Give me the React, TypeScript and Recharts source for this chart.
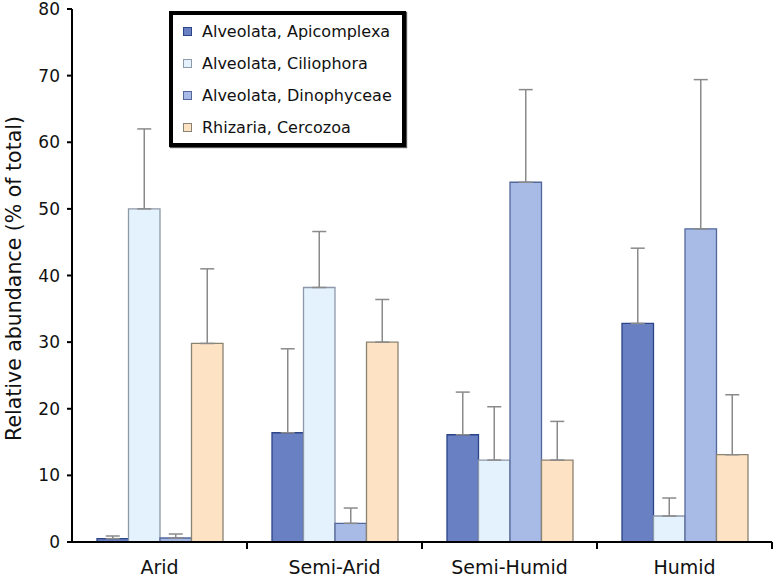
import { Bar, BarChart, ErrorBar, Legend, XAxis, YAxis } from "recharts";

const categories = ["Arid", "Semi-Arid", "Semi-Humid", "Humid"];

const apicomplexa = [0.5, 16.4, 16.1, 32.8];
const apicomplexaErr = [0.4, 12.6, 6.4, 11.3];
const ciliophora = [50, 38.2, 12.3, 3.9];
const ciliophoraErr = [12, 8.4, 8, 2.7];
const dinophyceae = [0.6, 2.8, 54, 47];
const dinophyceaeErr = [0.6, 2.3, 13.9, 22.4];
const cercozoa = [29.8, 30, 12.3, 13.1];
const cercozoaErr = [11.2, 6.4, 5.8, 9];

const yTicks = [0, 10, 20, 30, 40, 50, 60, 70, 80];

const series = [
  { key: "api", name: "Alveolata, Apicomplexa", fill: "#6980c3", stroke: "#2c4488" },
  { key: "cil", name: "Alveolata, Ciliophora", fill: "#e4f2fd", stroke: "#8d98a8" },
  { key: "dino", name: "Alveolata, Dinophyceae", fill: "#a8bae6", stroke: "#53689a" },
  { key: "cerc", name: "Rhizaria, Cercozoa", fill: "#fde3c3", stroke: "#8a8272" },
];

const data = categories.map((c, i) => ({
  cat: c,
  api: apicomplexa[i],
  apiErr: [0, apicomplexaErr[i]],
  cil: ciliophora[i],
  cilErr: [0, ciliophoraErr[i]],
  dino: dinophyceae[i],
  dinoErr: [0, dinophyceaeErr[i]],
  cerc: cercozoa[i],
  cercErr: [0, cercozoaErr[i]],
}));

const W = 773;
const H = 578;
const LEFT = 72;
const RIGHT = 1;
const BAND = (W - LEFT - RIGHT) / categories.length;
const FONT = "'DejaVu Sans', Verdana, sans-serif";

function CategoryTick({ x, y, payload }: any) {
  return (
    <g>
      <text
        x={x}
        y={y + 25}
        textAnchor="middle"
        dominantBaseline="central"
        fontSize={19}
        fontFamily={FONT}
        fill="#111"
      >
        {payload.value}
      </text>
      <line x1={x + BAND / 2} x2={x + BAND / 2} y1={y} y2={y + 7} stroke="#000" strokeWidth={2} />
    </g>
  );
}

function LegendBox() {
  return (
    <div
      style={{
        boxSizing: "border-box",
        width: 237,
        height: 136,
        border: "4px solid #000",
        background: "#fff",
        fontFamily: FONT,
        fontSize: 16,
        color: "#111",
        boxShadow: "1px 1px 1px #555",
      }}
    >
      {series.map((s) => (
        <div
          key={s.key}
          style={{ display: "flex", alignItems: "center", height: 32, paddingLeft: 10 }}
        >
          <span
            style={{
              display: "inline-block",
              boxSizing: "border-box",
              width: 9,
              height: 9,
              background: s.fill,
              border: `1px solid ${s.stroke}`,
              marginRight: 10,
            }}
          />
          <span>{s.name}</span>
        </div>
      ))}
    </div>
  );
}

export default function App() {
  return (
    <div style={{ position: "absolute", left: 0, top: 0, background: "#fff" }}>
      <BarChart
        width={W}
        height={H}
        data={data}
        margin={{ top: 9, right: RIGHT, left: 0, bottom: 0 }}
        barGap={0}
        barSize={31.5}
      >
        <XAxis
          dataKey="cat"
          height={36}
          tickLine={false}
          tickSize={0}
          tickMargin={0}
          axisLine={{ stroke: "#000", strokeWidth: 2 }}
          tick={<CategoryTick />}
          interval={0}
        />
        <YAxis
          width={LEFT}
          domain={[0, 80]}
          ticks={yTicks}
          interval={0}
          tickSize={5}
          tickMargin={7}
          axisLine={{ stroke: "#000", strokeWidth: 2 }}
          tickLine={{ stroke: "#000", strokeWidth: 2 }}
          tick={{ fontSize: 17, fontFamily: FONT, fill: "#111" }}
          label={({ viewBox }: any) => (
            <text
              x={14}
              y={viewBox.y + viewBox.height / 2 + 3}
              transform={`rotate(-90, 14, ${viewBox.y + viewBox.height / 2 + 3})`}
              textAnchor="middle"
              dominantBaseline="central"
              fontSize={20.5}
              fontFamily={FONT}
              fill="#111"
            >
              Relative abundance (% of total)
            </text>
          )}
        />
        <Legend
          layout="vertical"
          align="center"
          verticalAlign="middle"
          content={<LegendBox />}
          wrapperStyle={{ left: 169, top: 11, width: 237, height: 136 }}
        />
        {series.map((s) => (
          <Bar
            key={s.key}
            dataKey={s.key}
            name={s.name}
            fill={s.fill}
            stroke={s.stroke}
            strokeWidth={1.3}
            isAnimationActive={false}
          >
            <ErrorBar
              dataKey={`${s.key}Err`}
              direction="y"
              width={7}
              stroke="#8a8a8a"
              strokeWidth={1.5}
            />
          </Bar>
        ))}
      </BarChart>
    </div>
  );
}
